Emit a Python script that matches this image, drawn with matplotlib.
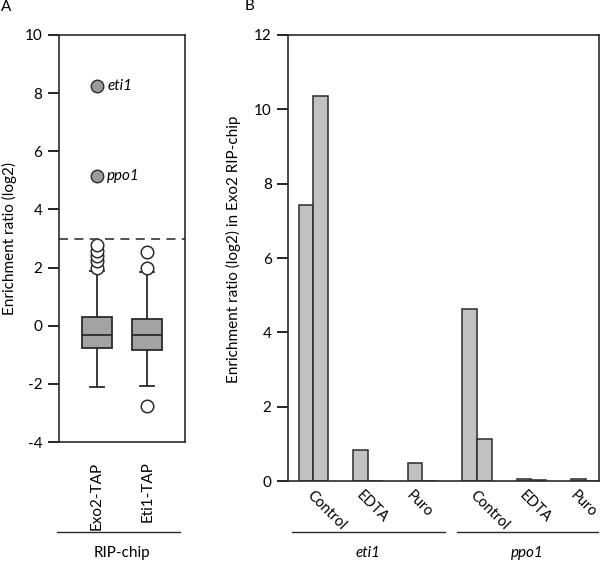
import matplotlib
matplotlib.use("Agg")
import matplotlib.pyplot as plt
from matplotlib.lines import Line2D
from matplotlib.transforms import ScaledTranslation

plt.rcParams['font.family'] = ['Lato', 'DejaVu Sans']

# ---- Panel A data (box plot summary) ----
box_labels = ["Exo2-TAP", "Eti1-TAP"]
box_med = [-0.31, -0.33]
box_q1 = [-0.78, -0.84]
box_q3 = [0.30, 0.24]
box_whislo = [-2.10, -2.06]
box_whishi = [1.88, 1.86]
box_fliers = [[1.98, 2.22, 2.40, 2.58, 2.78], [2.0, 2.54, -2.75]]
highlight_names = ["eti1", "ppo1"]
highlight_vals = [8.24, 5.14]
threshold = 3.0

# ---- Panel B data ----
conditions = ["Control", "EDTA", "Puro", "Control", "EDTA", "Puro"]
rep1 = [7.42, 0.84, 0.50, 4.62, 0.07, 0.05]
rep2 = [10.35, 0.0, 0.0, 1.13, 0.03, 0.0]
genes = ["eti1", "ppo1"]

fig = plt.figure(figsize=(6.0, 5.61), dpi=100)
edge = "#2b2b2b"
fs = 11
fs_cond = 10.5

# ---------------- Panel A ----------------
axA = fig.add_axes([59/600, 1-442/561, 126/600, 407/561])
stats = []
for i in range(len(box_labels)):
    stats.append(dict(med=box_med[i], q1=box_q1[i], q3=box_q3[i],
                      whislo=box_whislo[i], whishi=box_whishi[i],
                      fliers=box_fliers[i], label=box_labels[i]))
positions = [1, 2]
axA.bxp(stats, positions=positions, widths=0.59, capwidths=0.27,
        patch_artist=True,
        boxprops=dict(facecolor="#a3a3a3", edgecolor=edge, linewidth=1.3),
        medianprops=dict(color=edge, linewidth=1.3),
        whiskerprops=dict(color=edge, linewidth=1.3),
        capprops=dict(color=edge, linewidth=1.3),
        flierprops=dict(marker='o', markerfacecolor='white', markeredgecolor=edge,
                        markersize=9, markeredgewidth=1.1))
axA.axhline(threshold, color="#444444", linestyle=(0, (5, 3.5)), linewidth=1.3)
axA.plot([positions[0]] * len(highlight_vals), highlight_vals, 'o', color="#9a9a9a",
         markeredgecolor=edge, markersize=9, markeredgewidth=1.0)
for name, v in zip(highlight_names, highlight_vals):
    axA.annotate(name, (positions[0], v), xytext=(7.5, 0), textcoords='offset points',
                 va='center', ha='left', style='italic', fontsize=fs)
axA.set_xlim(0.255, 2.745)
axA.set_ylim(-4, 10)
axA.set_yticks(range(-4, 11, 2))
axA.set_yticklabels([str(t) for t in range(-4, 11, 2)], fontsize=fs)
axA.set_xticks(positions)
axA.set_xticklabels(box_labels, rotation=90, fontsize=fs)
axA.tick_params(axis='x', length=0, pad=14)
axA.tick_params(axis='y', length=8, width=1.2, direction='out', pad=4)
for s in axA.spines.values():
    s.set_linewidth(1.2)
    s.set_color(edge)
axA.set_ylabel("Enrichment ratio (log2)", fontsize=fs)
axA.yaxis.set_label_coords(-0.33, 0.5)
tA = axA.get_xaxis_transform()
axA.add_line(Line2D([0.215, 2.646], [-0.22, -0.22], transform=tA, color=edge,
                    linewidth=1.0, clip_on=False))
axA.text(1.5, -0.2727, "RIP-chip", transform=tA, ha='center', va='center', fontsize=fs)

# ---------------- Panel B ----------------
axB = fig.add_axes([288.3/600, 1-481.3/561, 310.7/600, 446.6/561])
x = list(range(len(conditions)))
w = 0.27
axB.bar([xi - w/2 for xi in x], rep1, width=w, color="#c2c2c2", edgecolor=edge, linewidth=1.1)
axB.bar([xi + w/2 for xi in x], rep2, width=w, color="#c2c2c2", edgecolor=edge, linewidth=1.1)
axB.set_xlim(-0.46, 5.24)
axB.set_ylim(0, 12)
axB.set_yticks(range(0, 13, 2))
axB.set_yticklabels([str(t) for t in range(0, 13, 2)], fontsize=fs)
axB.set_xticks(x)
axB.set_xticklabels([])
axB.tick_params(axis='x', length=0)
axB.tick_params(axis='y', length=8, width=1.2, direction='out', pad=4)
for s in axB.spines.values():
    s.set_linewidth(1.2)
    s.set_color(edge)
axB.set_ylabel("Enrichment ratio (log2) in Exo2 RIP-chip", fontsize=fs)
axB.yaxis.set_label_coords(-0.152, 0.52)
tB = axB.get_xaxis_transform()

# rotated condition labels; longer labels shift right as in the original
fig.canvas.draw()
renderer = fig.canvas.get_renderer()
for xi, lab in zip(x, conditions):
    tmp = fig.text(0, 0, lab, fontsize=fs_cond)
    wpx = tmp.get_window_extent(renderer).width
    tmp.remove()
    dx = 0.5 * wpx - 24
    off = ScaledTranslation(dx / fig.dpi, -7 / fig.dpi, fig.dpi_scale_trans)
    axB.text(xi, 0, lab, transform=tB + off, rotation=-45, rotation_mode='anchor',
             ha='left', va='top', fontsize=fs_cond)

group_spans = [(-0.40, 2.415), (2.63, 5.23)]
for g, (a, b) in zip(genes, group_spans):
    axB.add_line(Line2D([a, b], [-0.113, -0.113], transform=tB, color=edge,
                        linewidth=1.0, clip_on=False))
    axB.text((a + b) / 2, -0.1605, g, transform=tB, ha='center', va='center',
             style='italic', fontsize=fs)

fig.text(6.5/600, 1-7/561, "A", ha='center', va='center', fontsize=fs)
fig.text(249.5/600, 1-6/561, "B", ha='center', va='center', fontsize=fs)

fig.savefig("out.png", dpi=100)
